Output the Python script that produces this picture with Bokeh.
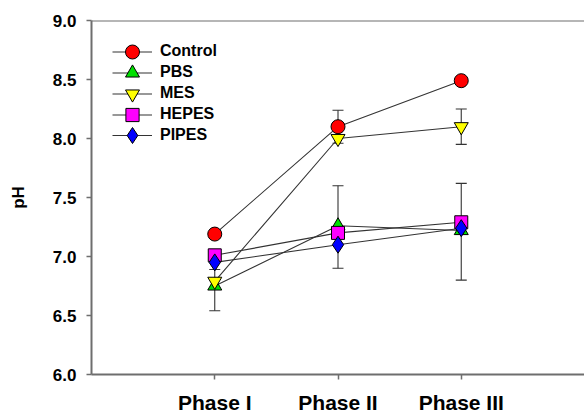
from bokeh.plotting import figure
from bokeh.models import (FixedTicker, Span, Whisker, TeeHead, ColumnDataSource,
                          Legend, LegendItem, PrintfTickFormatter)
from bokeh.embed import file_html
from bokeh.resources import INLINE

phases = ["Phase I", "Phase II", "Phase III"]
xpos = [1, 2, 3]
series_names = ["Control", "PBS", "MES", "HEPES", "PIPES"]
control = [7.19, 8.10, 8.49]
pbs = [6.75, 7.26, 7.22]
mes = [6.79, 8.00, 8.10]
hepes = [7.01, 7.20, 7.29]
pipes = [6.95, 7.10, 7.24]
# error bar bounds (None = no visible bar)
control_lo = [None, 7.96, None]
control_hi = [None, 8.24, None]
pbs_lo = [6.54, 6.90, 6.80]
pbs_hi = [6.89, 7.60, 7.62]
mes_lo = [None, None, 7.95]
mes_hi = [None, None, 8.25]
hepes_lo = [None, None, None]
hepes_hi = [None, None, None]
pipes_lo = [None, None, None]
pipes_hi = [None, None, None]
y_ticks = [6.0, 6.5, 7.0, 7.5, 8.0, 8.5, 9.0]

FONT = "Liberation Sans"
AXC = "#6e6e6e"

p = figure(width=584, height=416, x_range=(0, 4.0), y_range=(6.0, 9.0),
           output_backend="svg", toolbar_location=None,
           min_border_left=91, min_border_top=20, min_border_bottom=39, min_border_right=0)
p.outline_line_color = None
p.grid.visible = False
p.background_fill_color = "white"

p.xaxis.ticker = FixedTicker(ticks=xpos)
p.xaxis.major_label_overrides = {x: lab for x, lab in zip(xpos, phases)}
p.yaxis.ticker = FixedTicker(ticks=y_ticks)
p.yaxis.formatter = PrintfTickFormatter(format="%.1f")
for ax in (p.xaxis, p.yaxis):
    ax.axis_line_color = AXC
    ax.axis_line_width = 2
    ax.major_tick_line_color = AXC
    ax.major_tick_line_width = 1.5
    ax.major_tick_in = 0
    ax.major_tick_out = 5
    ax.minor_tick_line_color = None
    ax.major_label_text_font = FONT
    ax.major_label_text_font_style = "bold"
    ax.major_label_text_color = "black"
p.xaxis.major_label_text_font_size = "21px"
p.xaxis.major_label_standoff = 11
p.yaxis.major_label_text_font_size = "17px"
p.yaxis.major_label_standoff = 10
p.yaxis.axis_label = "pH"
p.yaxis.axis_label_text_font = FONT
p.yaxis.axis_label_text_font_style = "bold"
p.yaxis.axis_label_text_font_size = "17px"
p.yaxis.axis_label_text_color = "black"
p.yaxis.axis_label_standoff = 22

p.add_layout(Span(location=9.0, dimension="width", line_color=AXC, line_width=2))

data = [control, pbs, mes, hepes, pipes]
los = [control_lo, pbs_lo, mes_lo, hepes_lo, pipes_lo]
his = [control_hi, pbs_hi, mes_hi, hepes_hi, pipes_hi]
markers = ["circle", "triangle", "inverted_triangle", "square", "diamond"]
colors = ["#ff0000", "#00e000", "#ffff00", "#ff00ff", "#0000ff"]
sizes = [14, 14, 14, 13, 17]
legend_box = [35, 35, 35, 33, 44]

line_rs = []
for ys in data:
    line_rs.append(p.line(xpos, ys, line_color="#333333", line_width=1.1))

for lo, hi in zip(los, his):
    xs = [x for x, l in zip(xpos, lo) if l is not None]
    lows = [l for l in lo if l is not None]
    highs = [h for h in hi if h is not None]
    if xs:
        src = ColumnDataSource(dict(x=xs, upper=highs, lower=lows))
        w = Whisker(source=src, base="x", upper="upper", lower="lower",
                    line_color="#333333", line_width=1.1,
                    upper_head=TeeHead(size=11, line_color="#333333", line_width=1.1),
                    lower_head=TeeHead(size=11, line_color="#333333", line_width=1.1))
        p.add_layout(w)

frame_h = 416 - 20 - 39
for i, (name, ys, mk, c, s, lr, gb) in enumerate(
        zip(series_names, data, markers, colors, sizes, line_rs, legend_box)):
    sr = p.scatter(xpos, ys, marker=mk, size=s, fill_color=c, line_color="black", line_width=1)
    center_from_bottom = frame_h - 34 - 21 * i
    leg = Legend(items=[LegendItem(label=name, renderers=[lr, sr])],
                 location=(21, center_from_bottom - gb / 2))
    leg.border_line_color = None
    leg.background_fill_alpha = 0
    leg.glyph_width = 40
    leg.glyph_height = gb
    leg.label_height = gb
    leg.padding = 0
    leg.margin = 0
    leg.label_standoff = 8
    leg.label_text_font = FONT
    leg.label_text_font_style = "bold"
    leg.label_text_font_size = "16px"
    leg.label_text_color = "black"
    p.add_layout(leg)

open("out.html", "w").write(file_html(p, INLINE))
